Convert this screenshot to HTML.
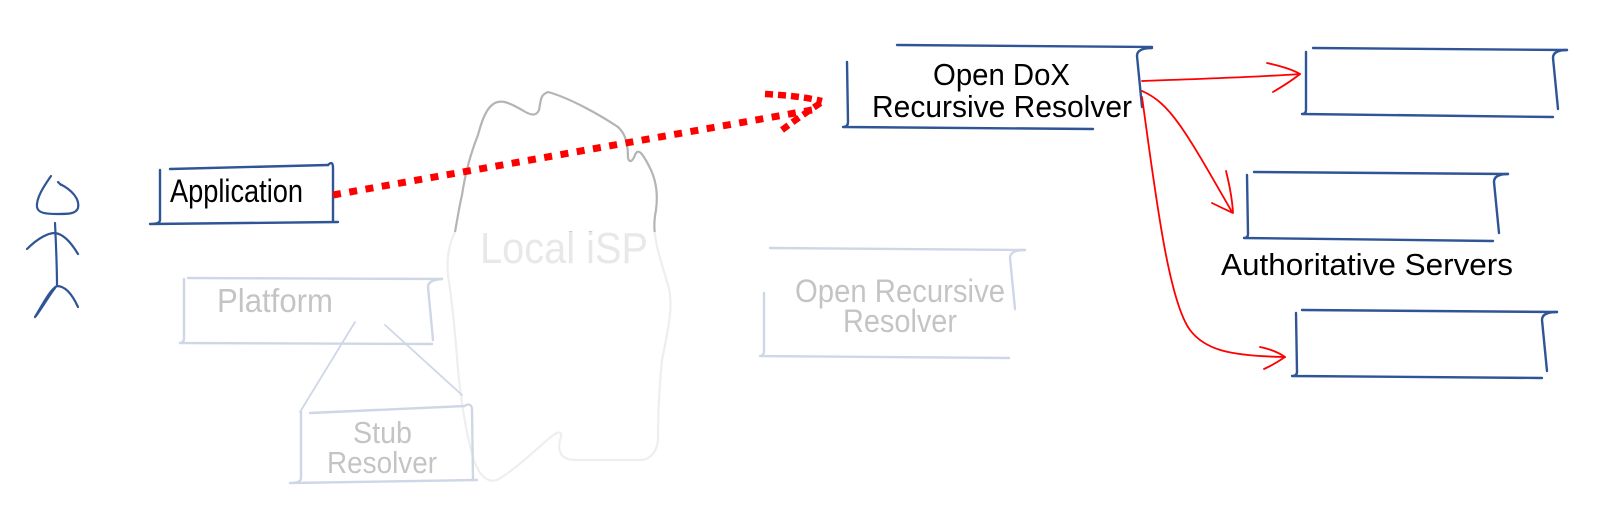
<!DOCTYPE html>
<html>
<head>
<meta charset="utf-8">
<style>
  html, body { margin: 0; padding: 0; background: #ffffff; }
  body { width: 1611px; height: 507px; overflow: hidden; }
  svg { display: block; }
  text { font-family: "Liberation Sans", "DejaVu Sans", sans-serif; }
</style>
</head>
<body>
<svg width="1611" height="507" viewBox="0 0 1611 507" xmlns="http://www.w3.org/2000/svg">
  <rect x="0" y="0" width="1611" height="507" fill="#ffffff"/>

  <!-- Cloud (Local ISP) -->
  <path d="M455,232 C458,215 460,203 462,195 C465,175 470,155 478,135 C482,120 486,110 492,105 C500,98 510,103 522,110 C530,115 536,117 539,110 C541,100 540,95 548,92 C570,98 600,115 618,127 C626,134 628,145 628,158 C629,162 632,163 635,155 C638,148 642,152 650,168 C656,180 658,195 656,210 C654,220 654,228 655,235 C657,250 662,265 668,285 C674,305 668,330 662,360 C659,390 658,415 658,440 C657,452 650,460 640,460 L575,460 C562,460 557,452 560,440 C563,432 560,430 552,436 C535,450 515,470 497,480 C484,484 476,470 471,450 C466,430 461,400 458,370 C455,330 452,300 448,275 C446,255 450,242 455,232 Z"
        fill="none" stroke="#b4b4b4" stroke-width="2.2" stroke-linejoin="round"/>
  <text x="480" y="263" font-size="44" fill="#9a9a9a" textLength="168" lengthAdjust="spacingAndGlyphs">Local iSP</text>

  <!-- Platform box -->
  <g fill="none" stroke="#2f5597" stroke-width="2.4" stroke-linecap="round" stroke-linejoin="round">
    <path d="M188,278 L442,279"/>
    <path d="M442,279 Q428,280 428,287 L433,340"/>
    <path d="M184,279 L184,338 Q184,343 180,343 L432,344"/>
    <!-- lines platform -> stub -->
    <path d="M355,322 L300,412" stroke-width="1.8"/>
    <path d="M385,325 L462,395" stroke-width="1.8"/>
    <!-- Stub resolver box -->
    <path d="M310,413 L465,406"/>
    <path d="M466,405 Q472,403 472,410 L473,480"/>
    <path d="M301,412 L301,478 Q301,483 290,483 L477,480"/>
    <!-- Open recursive resolver box -->
    <path d="M770,248 L1025,250"/>
    <path d="M1025,250 Q1010,250 1010,258 L1015,309"/>
    <path d="M764,293 L764,351 Q764,356 760,356 L1009,358"/>
  </g>
  <text x="217" y="312" font-size="33" fill="#000" textLength="116" lengthAdjust="spacingAndGlyphs">Platform</text>
  <text x="353" y="443" font-size="31" fill="#000" textLength="59" lengthAdjust="spacingAndGlyphs">Stub</text>
  <text x="327" y="473" font-size="31" fill="#000" textLength="110" lengthAdjust="spacingAndGlyphs">Resolver</text>
  <text x="795" y="302" font-size="32" fill="#000" textLength="210" lengthAdjust="spacingAndGlyphs">Open Recursive</text>
  <text x="843" y="332" font-size="32" fill="#000" textLength="114" lengthAdjust="spacingAndGlyphs">Resolver</text>

  <!-- fade overlay for lower-left region -->
  <rect x="100" y="232" width="1000" height="275" fill="#ffffff" fill-opacity="0.77"/>

  <!-- Stick figure -->
  <g fill="none" stroke="#2f5597" stroke-width="2.2" stroke-linecap="round" stroke-linejoin="round">
    <path d="M51,176 C44,186 36,198 37,207 C38,213 45,214 58,214 C68,214 76,214 78,208 C80,199 72,190 60,184 M58,182 L61,185"/>
    <path d="M55,223 C56,245 57,265 57,286"/>
    <path d="M27,249 C38,238 48,233 55,233 C64,234 72,244 78,254"/>
    <path d="M35,317 C44,302 50,290 57,286 C66,286 73,296 78,307"/>
    <path d="M36,316 C44,305 50,294 55,288"/>
  </g>

  <!-- Application box -->
  <g fill="none" stroke="#2f5597" stroke-width="2.4" stroke-linecap="round" stroke-linejoin="round">
    <path d="M170,169 L328,165"/>
    <path d="M328,165 Q333,160 333,168 L333,221"/>
    <path d="M160,170 L160,220 Q160,224 150,224 L338,222"/>
  </g>
  <text x="170" y="202" font-size="32" fill="#000" textLength="133" lengthAdjust="spacingAndGlyphs">Application</text>

  <!-- Dotted red connector -->
  <g fill="none" stroke="#ff0000" stroke-width="7" stroke-dasharray="8 8.5">
    <path d="M333,195 L812,110"/>
  </g>
  <g fill="none" stroke="#ff0000" stroke-width="6.5" stroke-dasharray="8 5">
    <path d="M765,94 C785,95 805,97 822,101"/>
    <path d="M782,130 C795,120 810,110 822,102"/>
  </g>

  <!-- Open DoX box -->
  <g fill="none" stroke="#2f5597" stroke-width="2.4" stroke-linecap="round" stroke-linejoin="round">
    <path d="M897,45 L1152,47"/>
    <path d="M1152,48 Q1137,48 1137,56 L1142,107"/>
    <path d="M847,62 L848,122 Q848,127 843,127 L1093,129"/>
  </g>
  <text x="933" y="85" font-size="31" fill="#000" textLength="137" lengthAdjust="spacingAndGlyphs">Open DoX</text>
  <text x="872" y="117" font-size="31" fill="#000" textLength="260" lengthAdjust="spacingAndGlyphs">Recursive Resolver</text>

  <!-- Authoritative server boxes -->
  <g fill="none" stroke="#2f5597" stroke-width="2.4" stroke-linecap="round" stroke-linejoin="round">
    <path d="M1313,48 L1567,50"/>
    <path d="M1567,50 Q1553,50 1553,58 L1558,109"/>
    <path d="M1306,52 L1306,110 Q1306,114 1302,114 L1553,117"/>

    <path d="M1254,172 L1508,174"/>
    <path d="M1508,174 Q1494,174 1494,182 L1499,233"/>
    <path d="M1247,175 L1248,234 Q1248,238 1244,238 L1493,241"/>

    <path d="M1302,310 L1557,312"/>
    <path d="M1557,312 Q1542,312 1542,320 L1547,371"/>
    <path d="M1296,313 L1297,372 Q1297,376 1292,376 L1542,378"/>
  </g>
  <text x="1221" y="275" font-size="31" fill="#000" textLength="292" lengthAdjust="spacingAndGlyphs">Authoritative Servers</text>

  <!-- Red arrows -->
  <g fill="none" stroke="#ff0000" stroke-width="1.8" stroke-linecap="round" stroke-linejoin="round">
    <path d="M1142,81 C1200,79 1260,77 1300,74"/>
    <path d="M1267,63 Q1290,68 1300,74 Q1290,82 1273,92"/>

    <path d="M1142,91 C1170,103 1185,130 1232,212"/>
    <path d="M1226,171 Q1232,195 1233,213 Q1222,208 1212,203"/>

    <path d="M1142,97 C1155,190 1168,300 1190,330 C1205,350 1230,356 1285,357"/>
    <path d="M1260,347 Q1275,350 1285,357 Q1275,364 1264,369"/>
  </g>
</svg>
</body>
</html>
